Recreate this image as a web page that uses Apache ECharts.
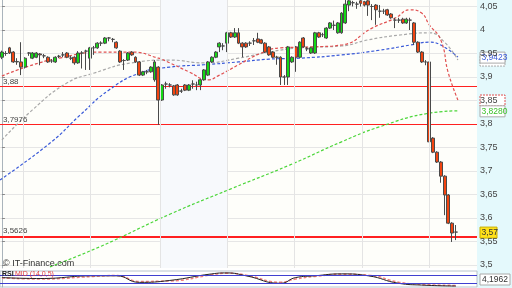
<!DOCTYPE html>
<html><head><meta charset="utf-8">
<script src="https://cdn.jsdelivr.net/npm/echarts@6/dist/echarts.min.js"></script>
<style>html,body{margin:0;padding:0;background:#fff}#c{width:512px;height:288px}</style>
</head><body><div id="c"></div>
<script>
// [open, close, low, high]
const ohlc = [
[3.942,3.953,3.938,3.956],[3.950,3.950,3.945,3.955],[3.962,3.951,3.949,3.964],[3.953,3.932,3.930,3.955],
[3.932,3.933,3.926,3.940],[3.932,3.921,3.904,3.974],[3.921,3.940,3.918,3.942],[3.951,3.951,3.945,3.953],
[3.940,3.951,3.938,3.953],[3.942,3.951,3.940,3.953],[3.949,3.947,3.925,3.951],[3.945,3.945,3.940,3.949],
[3.942,3.932,3.930,3.944],[3.934,3.934,3.930,3.938],[3.932,3.942,3.930,3.944],[3.944,3.944,3.940,3.947],
[3.947,3.947,3.942,3.953],[3.951,3.942,3.940,3.953],[3.940,3.940,3.936,3.945],[3.942,3.930,3.926,3.944],
[3.930,3.951,3.928,3.955],[3.951,3.951,3.918,3.955],[3.955,3.955,3.915,3.958],[3.940,3.962,3.915,3.964],
[3.962,3.962,3.947,3.966],[3.962,3.972,3.960,3.974],[3.972,3.972,3.966,3.976],[3.972,3.983,3.970,3.985],
[3.983,3.983,3.976,3.985],[3.980,3.980,3.974,3.983],[3.974,3.962,3.960,3.976],[3.955,3.932,3.930,3.957],
[3.935,3.935,3.915,3.938],[3.936,3.951,3.934,3.953],[3.953,3.947,3.945,3.955],[3.942,3.932,3.930,3.944],
[3.932,3.904,3.902,3.934],[3.904,3.911,3.902,3.913],[3.911,3.911,3.906,3.915],[3.911,3.921,3.909,3.923],
[3.894,3.932,3.890,3.936],[3.921,3.851,3.798,3.923],[3.851,3.883,3.849,3.885],[3.885,3.885,3.875,3.890],
[3.883,3.883,3.878,3.887],[3.881,3.862,3.860,3.883],[3.883,3.862,3.860,3.885],[3.870,3.870,3.866,3.875],
[3.883,3.872,3.870,3.885],[3.872,3.883,3.870,3.885],[3.885,3.885,3.875,3.893],[3.883,3.883,3.872,3.890],
[3.883,3.894,3.872,3.896],[3.894,3.915,3.892,3.917],[3.904,3.932,3.902,3.934],[3.932,3.942,3.930,3.944],
[3.942,3.953,3.940,3.955],[3.964,3.972,3.953,3.974],[3.966,3.966,3.957,3.972],[3.972,3.994,3.953,3.996],
[3.994,3.985,3.983,3.996],[3.985,3.994,3.983,4.004],[3.994,3.972,3.970,4.004],[3.972,3.964,3.942,3.974],
[3.972,3.964,3.962,3.974],[3.972,3.972,3.966,3.976],[3.977,3.977,3.968,3.983],[3.981,3.974,3.972,3.994],
[3.979,3.972,3.970,3.981],[3.972,3.953,3.951,3.974],[3.964,3.947,3.945,3.966],[3.953,3.942,3.940,3.955],
[3.942,3.942,3.926,3.945],[3.942,3.900,3.883,3.944],[3.900,3.900,3.883,3.904],[3.900,3.964,3.883,3.966],
[3.932,3.942,3.930,3.944],[3.964,3.942,3.911,3.966],[3.942,3.974,3.940,3.976],[3.983,3.964,3.962,3.985],
[3.960,3.960,3.955,3.964],[3.951,3.962,3.949,3.964],[3.951,3.994,3.949,3.996],[3.994,3.985,3.983,3.996],
[3.990,3.990,3.985,3.994],[3.983,4.004,3.981,4.006],[4.004,4.015,4.002,4.017],[4.010,4.010,4.000,4.020],
[3.994,4.015,3.992,4.017],[3.994,4.036,3.992,4.038],[4.015,4.055,4.013,4.064],[4.053,4.062,4.040,4.064],
[4.058,4.058,4.050,4.062],[4.055,4.055,4.045,4.060],[4.062,4.057,4.050,4.064],[4.060,4.053,4.050,4.062],
[4.062,4.053,4.030,4.064],[4.050,4.050,4.021,4.055],[4.053,4.043,4.011,4.055],[4.040,4.040,4.026,4.053],
[4.040,4.040,4.034,4.045],[4.043,4.032,4.030,4.045],[4.034,4.026,4.024,4.036],[4.021,4.021,4.004,4.026],
[4.021,4.021,4.015,4.026],[4.023,4.015,4.013,4.026],[4.015,4.023,4.013,4.026],[4.021,4.021,4.000,4.026],
[4.015,3.974,3.968,4.017],[3.974,3.953,3.951,3.976],[3.953,3.932,3.930,3.955],[3.932,3.932,3.925,3.936],
[3.932,3.762,3.660,3.934],[3.770,3.740,3.738,3.772],[3.740,3.719,3.717,3.742],[3.719,3.689,3.675,3.721],
[3.689,3.649,3.606,3.691],[3.649,3.589,3.587,3.651],[3.589,3.568,3.549,3.591],[3.570,3.570,3.553,3.585]
];
const slots = 125;
const categories = Array.from({length: slots}, (_, i) => String(i));

// moving averages: [candle index, value]
const maRed = [[0,3.902],[7,3.923],[15,3.940],[26,3.953],[34,3.953],[41,3.940],[44,3.930],[49,3.911],[54,3.894],[57,3.904],[62,3.926],[68,3.951],[73,3.962],[81,3.964],[89,3.968],[97,4.004],[103,4.025],[107,4.043],[110,4.036],[112,4.011],[115,3.979],[117,3.908],[119.5,3.851]];
const maGray = [[0,3.766],[8,3.830],[17,3.887],[24,3.908],[34,3.930],[44,3.936],[53,3.930],[62,3.940],[70,3.953],[78,3.962],[89,3.966],[96,3.979],[104,3.989],[112,3.994],[116,3.974],[119.5,3.936]];
const maBlue = [[-0.5,3.681],[13,3.762],[20.5,3.819],[28,3.872],[36,3.908],[44,3.921],[53,3.926],[62,3.932],[70,3.938],[78,3.940],[89,3.947],[99,3.957],[107,3.968],[112,3.974],[115,3.968],[119.5,3.9423]];
const maGreen = [[12.6,3.496],[26,3.540],[44,3.608],[60,3.662],[75.5,3.713],[89,3.762],[99,3.794],[112,3.823],[119.5,3.828]];

const rsi = [[0,59],[10,53],[24,70],[30,70],[36,29],[44,41],[55,82],[59,88],[64,70],[73,23],[77,59],[82,70],[89,82],[96,70],[104,23],[110,12],[119,6]];
const rsiSignal = [[0,57],[10,50],[24,66],[30,72],[36,35],[44,38],[55,76],[59,86],[64,74],[73,30],[77,50],[82,66],[89,80],[96,74],[104,30],[110,16],[119,10]];

const levels = [3.88, 3.7976, 3.5626];
const levelLabels = ['3,88', '3,7976', '3,5626'];
const yTicks = [3.5,3.55,3.6,3.65,3.7,3.75,3.8,3.85,3.9,3.95,4,4.05];
const sessionBreaks = [5.5, 23.1, 41.4, 59, 76.5, 94.4, 111.9];
const lastPrice = 3.57;
const tagBlue = 3.9423, tagGreen = 3.8280, tagRed = 3.851, tagGray = 3.936;
const rsiValue = '4,1962';

const fmt = v => String(+v.toFixed(4)).replace('.', ',');
const dash = [3, 2];

const chart = echarts.init(document.getElementById('c'));
chart.setOption({
  animation: false,
  backgroundColor: '#ffffff',
  grid: [
    {left: 0, right: 35, top: 0, height: 268, backgroundColor: '#fefefa', show: true, borderWidth: 0},
    {left: 0, right: 35, top: 271, height: 16, show: true, backgroundColor: '#ffffff', borderColor: '#b8c4cc', borderWidth: 1}
  ],
  xAxis: [
    {type: 'category', gridIndex: 0, data: categories, boundaryGap: true, show: false},
    {type: 'value', gridIndex: 0, min: -0.5, max: slots - 0.5, show: false},
    {type: 'value', gridIndex: 1, min: -0.5, max: slots - 0.5, show: false}
  ],
  yAxis: [
    {type: 'value', gridIndex: 0, position: 'right', min: 3.4936, max: 4.0638, scale: true,
     axisLine: {show: true, lineStyle: {color: '#aab4bb'}},
     axisTick: {show: true, length: 3, customValues: yTicks, lineStyle: {color: '#888'}},
     axisLabel: {customValues: yTicks, formatter: fmt, color: '#444', fontSize: 9, fontFamily: 'Liberation Sans', margin: 3},
     splitLine: {show: true, lineStyle: {color: '#e6e6e6', width: 1}}},
    {type: 'value', gridIndex: 1, position: 'right', min: 0, max: 100, axisLabel: {show: false}, axisTick: {show: false},
     axisLine: {show: true, lineStyle: {color: '#aab4bb'}}, splitLine: {show: false}}
  ],
  series: [
    {type: 'line', xAxisIndex: 1, yAxisIndex: 0, data: [], z: 0, silent: true,
     markArea: {silent: true, itemStyle: {color: '#f7f9fc'},
       data: [[{xAxis: sessionBreaks[2]}, {xAxis: sessionBreaks[3]}]]},
     markLine: {silent: true, symbol: 'none', label: {show: false}, lineStyle: {color: '#e4e4e4', type: 'solid', width: 1},
       data: sessionBreaks.map(x => ({xAxis: x}))}},
    {type: 'candlestick', xAxisIndex: 0, yAxisIndex: 0, data: ohlc, barWidth: 3.4, z: 3,
     itemStyle: {color: '#14d814', color0: '#f24410', borderColor: '#4a4a4a', borderColor0: '#4a4a4a', borderWidth: 1},
     markLine: {silent: true, symbol: 'none', z: 2, label: {show: false},
       data: levels.map((v, k) => ({yAxis: v, lineStyle: {color: '#ff2020', width: k === 2 ? 2 : 1, type: 'solid'}}))}},
    {type: 'line', xAxisIndex: 1, yAxisIndex: 0, data: maGreen, symbol: 'none', smooth: true, z: 2,
     lineStyle: {color: '#4cd63a', width: 1.2, type: dash}},
    {type: 'line', xAxisIndex: 1, yAxisIndex: 0, data: maBlue, symbol: 'none', smooth: true, z: 2,
     lineStyle: {color: '#3a5ad8', width: 1.2, type: dash}},
    {type: 'line', xAxisIndex: 1, yAxisIndex: 0, data: maGray, symbol: 'none', smooth: true, z: 2,
     lineStyle: {color: '#a8a8a8', width: 1.2, type: dash}},
    {type: 'line', xAxisIndex: 1, yAxisIndex: 0, data: maRed, symbol: 'none', smooth: true, z: 2,
     lineStyle: {color: '#e05050', width: 1.2, type: dash}},
    {type: 'line', xAxisIndex: 2, yAxisIndex: 1, data: rsiSignal, symbol: 'none', smooth: true,
     lineStyle: {color: '#f08080', width: 1.5, type: dash},
     markLine: {silent: true, symbol: 'none', label: {show: false}, lineStyle: {color: '#4040d0', width: 1, type: 'solid'}, data: [{yAxis: 75}, {yAxis: 25}]}},
    {type: 'line', xAxisIndex: 2, yAxisIndex: 1, data: rsi, symbol: 'none', smooth: true,
     lineStyle: {color: '#222', width: 1}}
  ]
});

function tag(value, text, color, bg, border, borderType, w) {
  const y = chart.convertToPixel({yAxisIndex: 0}, value);
  return {type: 'group', x: 480, y: y - 5, z: 100, children: [
    {type: 'rect', shape: {x: 0, y: 0, width: w || 25, height: 11},
     style: {fill: bg, stroke: border, lineWidth: 1, lineDash: borderType}},
    {type: 'text', x: 1.5, y: 1.5, style: {text: text, fill: color, font: '8.5px "Liberation Sans"'}}
  ]};
}
function levelLabel(value, text) {
  const y = chart.convertToPixel({yAxisIndex: 0}, value);
  return {type: 'text', x: 3, y: y - 9, z: 100, style: {text: text, fill: '#444', font: '8px "Liberation Sans"'}};
}
chart.setOption({graphic: [
  {type: 'rect', left: 477, top: 0, shape: {width: 35, height: 270}, style: {fill: '#e4f9fc'}, z: -10, silent: true},
  {type: 'rect', left: 477, top: 270, shape: {width: 35, height: 18}, style: {fill: '#e4f9fc'}, z: -10, silent: true},
  ...levels.map((v, k) => levelLabel(v, levelLabels[k])),
  tag(tagGray, '', '#888', '#ffffff', '#aaaaaa', [2, 1]),
  tag(tagBlue, fmt(tagBlue), '#3a5ad8', '#ffffff', '#aaaaaa', null),
  tag(tagRed, '', '#e05050', '#ffffff', '#e05050', [2, 1]),
  tag(tagGreen, '3,8280', '#3cc02a', '#ffffff', '#aaaaaa', null),
  tag(lastPrice, fmt(lastPrice), '#333', '#ffe21a', '#c8b000', null, 17),
  {type: 'group', x: 480, y: 274, z: 100, children: [
    {type: 'rect', shape: {x: 0, y: 0, width: 30, height: 11}, style: {fill: '#fff', stroke: '#aaa', lineWidth: 1}},
    {type: 'text', x: 2, y: 1.5, style: {text: rsiValue, fill: '#333', font: '8.5px "Liberation Sans"'}}
  ]},
  {type: 'text', left: 3, top: 259, z: 100, style: {text: '© IT-Finance.com', fill: '#333', font: '9px "Liberation Sans"'}},
  {type: 'text', left: 2, top: 271, z: 100, style: {text: 'RSI', fill: '#222', font: 'bold 7px "Liberation Sans"'}},
  {type: 'text', left: 15, top: 271, z: 100, style: {text: 'MID (14,0,5)', fill: '#e04040', font: '7px "Liberation Sans"'}}
]});
</script></body></html>
